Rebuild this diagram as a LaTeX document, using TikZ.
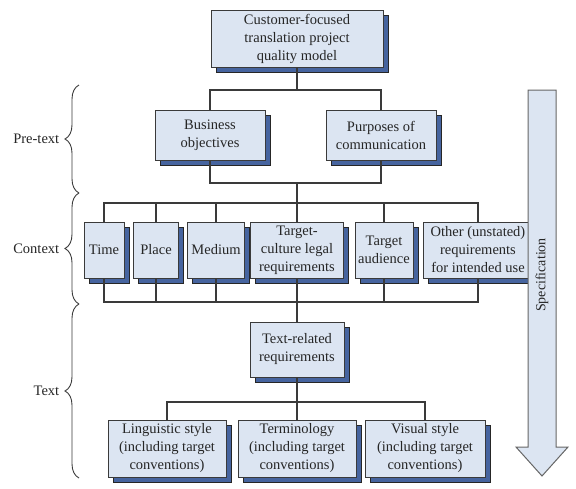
\documentclass[tikz,border=0pt]{standalone}
\usepackage{fontspec}
\setmainfont{Liberation Serif}
\usepackage{tikz}
\usetikzlibrary{positioning, shadows, decorations.pathreplacing}

\definecolor{boxfill}{HTML}{DCE5F2}
\definecolor{shadowblue}{HTML}{46649F}
\definecolor{linegray}{HTML}{3A3A3A}
\definecolor{textgray}{HTML}{262626}

\tikzset{
	box/.style={draw=linegray, line width=0.9pt, fill=boxfill, text=textgray, inner sep=0pt, align=center,
		font=\fontsize{14.5}{18}\selectfont,
		drop shadow={shadow xshift=5pt, shadow yshift=-5pt, fill=shadowblue, draw=black!85, line width=0.7pt, opacity=1}},
	link/.style={draw=linegray, line width=1.1pt},
	sidebrace/.style={draw=linegray, line width=0.9pt, decorate, decoration={brace, amplitude=14pt}},
	sidelabel/.style={anchor=east, text=textgray, font=\fontsize{14.5}{18}\selectfont}
}

\begin{document}
\begin{tikzpicture}
	[x=1pt, y=1pt, on grid]
	\useasboundingbox (0,0) rectangle (576,-488);
   \node[box, minimum width=172, minimum height=57] (top) at (297,-38.5) {Customer-focused\\translation project\\quality model};
   \node[box, minimum width=110, minimum height=50] (bus) [below left=96.5 and 87 of top] {Business\\objectives};
   \node[box, minimum width=110, minimum height=50] (purp) [right=171 of bus] {Purposes of\\communication};
   \node[box, minimum width=93, minimum height=56] (cult) [below=211.5 of top] {Target-\\culture legal\\requirements};
   \node[box, minimum width=40, minimum height=56] (time) [left=193 of cult] {Time};
   \node[box, minimum width=45, minimum height=56] (place) [right=52 of time] {Place};
   \node[box, minimum width=57, minimum height=56] (medium) [right=60 of place] {Medium};
   \node[box, minimum width=58, minimum height=56] (aud) [right=87 of cult] {Target\\audience};
   \node[box, minimum width=110, minimum height=56] (other) [right=94 of aud] {Other (unstated)\\requirements\\for intended use};
   \node[box, minimum width=94, minimum height=55] (textrel) [below=99.5 of cult] {Text-related\\requirements};
   \node[box, minimum width=118, minimum height=57] (term) [below=99 of textrel] {Terminology\\(including target\\conventions)};
   \node[box, minimum width=118, minimum height=57] (ling) [left=130 of term] {Linguistic style\\(including target\\conventions)};
   \node[box, minimum width=120, minimum height=57] (vis) [right=128 of term] {Visual style\\(including target\\conventions)};

   \coordinate (j1) at (297,-90);
   \coordinate (j2) at (297,-183);
   \coordinate (j3) at (297,-203);
   \coordinate (j4) at (297,-302);
   \coordinate (j5) at (297,-402);

   \path[link]
    (top.south) -- (j1)
    (bus.north) |- (j1) -| (purp.north)
    (bus.south) |- (j2) -| (purp.south)
    (j2) -- (cult.north)
    (time.north) |- (j3) -| (other.north)
    (time.south) |- (j4) -| (other.south)
    (cult.south) -- (textrel.north)
    (textrel.south) -- (term.north)
    (ling.north) |- (j5) -| (vis.north);
   \foreach \n in {place, medium, aud} {
    \draw[link] (\n.north) -- (\n.north |- j3);
    \draw[link] (\n.south) -- (\n.south |- j4);
   }

   \coordinate (pt-top) at (79,-85);
   \coordinate (pt-ctx) at (79,-193);
   \coordinate (ctx-txt) at (79,-304);
   \coordinate (txt-end) at (79,-478);
   \draw[sidebrace] (pt-ctx) -- node[sidelabel, xshift=-16pt] (pretext) {Pre-text} (pt-top);
   \draw[sidebrace] (ctx-txt) -- node[sidelabel, xshift=-16pt] (context) {Context} (pt-ctx);
   \draw[sidebrace] (txt-end) -- node[sidelabel, xshift=-16pt] (text) {Text} (ctx-txt);

   \draw[draw=black!60, fill=boxfill, line width=1pt]
    (528,-90) -- (556,-90) -- (556,-447) -- (568,-447) -- (542,-476)
    -- (516,-447) -- (528,-447) -- cycle;
   \node[rotate=90, text=textgray, font=\fontsize{14}{16}\selectfont] (spec) at (542,-275) {Specification};
\end{tikzpicture}
\end{document}
